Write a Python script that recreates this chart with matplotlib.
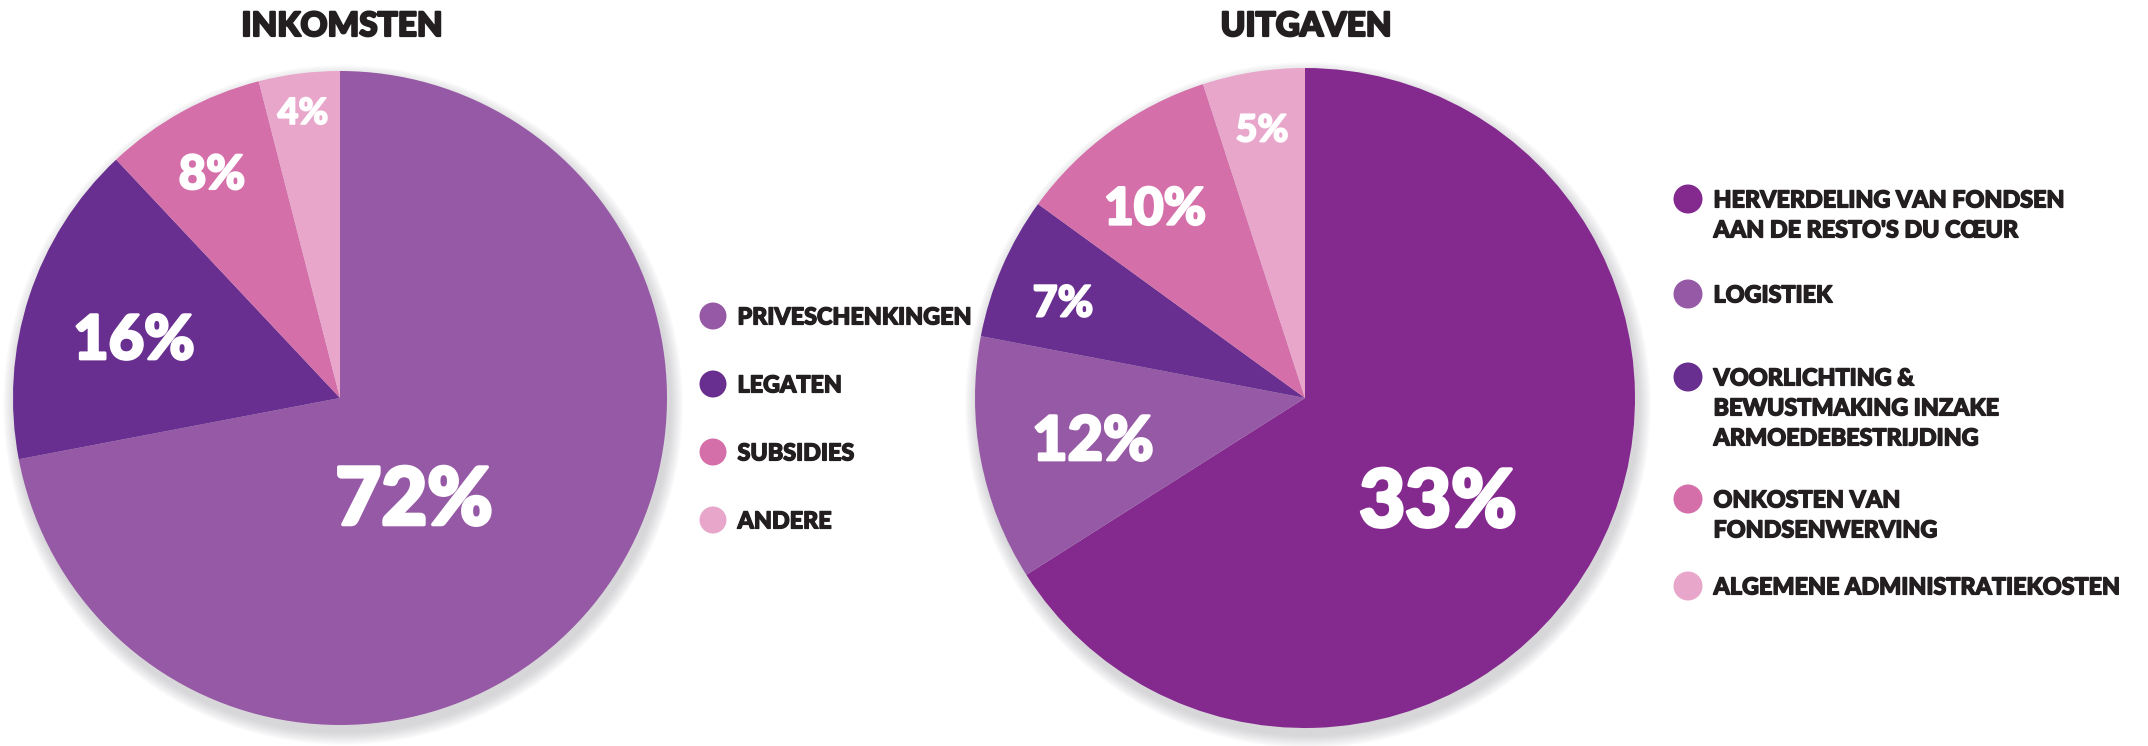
import matplotlib
matplotlib.use("Agg")
import matplotlib.pyplot as plt
import matplotlib.patheffects as pe
from matplotlib.patches import Circle

plt.rcParams["font.family"] = ["Lato", "DejaVu Sans"]

W, H = 2148, 746
INK = "#231f20"

# ---- data ----
in_title = "INKOMSTEN"
in_labels = ["PRIVESCHENKINGEN", "LEGATEN", "SUBSIDIES", "ANDERE"]
in_values = [72, 16, 8, 4]
in_pct_text = ["72%", "16%", "8%", "4%"]

out_title = "UITGAVEN"
out_labels = ["HERVERDELING VAN FONDSEN\nAAN DE RESTO'S DU CŒUR",
              "LOGISTIEK",
              "VOORLICHTING &\nBEWUSTMAKING INZAKE\nARMOEDEBESTRIJDING",
              "ONKOSTEN VAN\nFONDSENWERVING",
              "ALGEMENE ADMINISTRATIEKOSTEN"]
out_values = [66, 12, 7, 10, 5]
out_pct_text = ["33%", "12%", "7%", "10%", "5%"]  # as printed in the original

C_PRIVE, C_LEGAT, C_SUBS, C_ANDER, C_HERV = "#9659a5", "#682f90", "#d56fa9", "#e8a6cb", "#84298e"
in_colors = [C_PRIVE, C_LEGAT, C_SUBS, C_ANDER]
out_colors = [C_HERV, C_PRIVE, C_LEGAT, C_SUBS, C_ANDER]

fig = plt.figure(figsize=(W / 100, H / 100), dpi=100)
ax = fig.add_axes([0, 0, 1, 1])


def Y(y):
    # image-style y (down) -> axes y (up)
    return H - y


def heavy(color, lw):
    # thicken the bold face a bit, the original uses a very heavy geometric font
    return [pe.withStroke(linewidth=lw, foreground=color)]


def pie(values, colors, cx, cy, r, pct_text, pct_pos, pct_size):
    # soft drop shadow
    for k in range(10):
        ax.add_patch(Circle((cx + 3, Y(cy) - 7), r + 1 + k * 1.3, color="#9a9aa2",
                            alpha=0.045, lw=0, zorder=1))
    ax.pie(values, colors=colors, startangle=90, counterclock=False, radius=r,
           center=(cx, Y(cy)), wedgeprops=dict(linewidth=0, zorder=2))
    for t, (x, y), s in zip(pct_text, pct_pos, pct_size):
        cap = s * 100 / 72 * 0.72
        ax.text(x, Y(y + cap / 2), t, color="white", fontsize=s, fontweight="black",
                ha="center", va="baseline", zorder=5, path_effects=heavy("white", s / 22))


def legend(labels, colors, x, ys, mr, size, step):
    cap = size * 100 / 72 * 0.72
    for lab, col, y in zip(labels, colors, ys):
        ax.add_patch(Circle((x, Y(y)), mr, color=col, lw=0, zorder=3))
        for i, line in enumerate(lab.split("\n")):
            ax.text(x + mr + 11, Y(y + i * step + cap / 2), line, color=INK,
                    fontsize=size, fontweight="black", ha="left", va="baseline",
                    path_effects=heavy(INK, 1.0))


# ---- left: inkomsten ----
pie(in_values, in_colors, 340, 398, 327, in_pct_text,
    [(414, 496), (134, 337), (212, 172), (303, 111)], [57, 44, 34, 26])
legend(in_labels, in_colors, 713, [316, 384, 452, 520], 13.5, 16.8, 30)
ax.text(342, Y(24 + 12), in_title, color=INK, fontsize=24, fontweight="black",
        ha="center", va="baseline", path_effects=heavy(INK, 1.6))

# ---- right: uitgaven ----
pie(out_values, out_colors, 1305, 398, 330, out_pct_text,
    [(1438, 498), (1093, 438), (1063, 301), (1155, 206), (1262, 128)], [57, 44, 31, 37, 27])
legend(out_labels, out_colors, 1688, [199, 294, 377, 499, 586], 14.5, 16.8, 30)
ax.text(1306, Y(24 + 12), out_title, color=INK, fontsize=24, fontweight="black",
        ha="center", va="baseline", path_effects=heavy(INK, 1.6))

ax.set_xlim(0, W)
ax.set_ylim(0, H)
ax.set_aspect("auto")
ax.axis("off")

fig.savefig("out.png", dpi=100, facecolor="white")
